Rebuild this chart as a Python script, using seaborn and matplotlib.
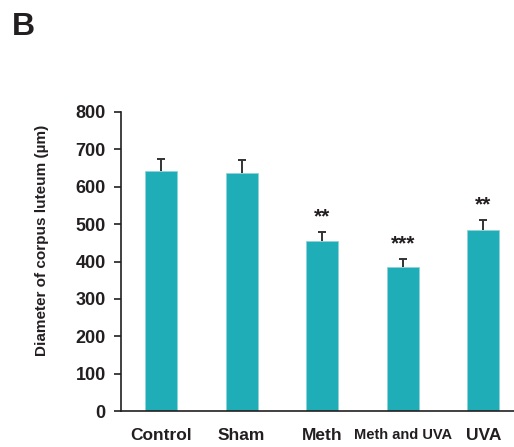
import matplotlib
matplotlib.use("Agg")
import matplotlib.pyplot as plt
import seaborn as sns
import pandas as pd
import numpy as np

# Corpus luteum diameter per treatment group (mean and SD, in µm)
groups = ["Control", "Sham", "Meth", "Meth and UVA", "UVA"]
means = [643, 638, 455, 386, 484]
sds = [32, 33, 25, 22, 28]
stars = ["", "", "**", "***", "**"]
yticks = [0, 100, 200, 300, 400, 500, 600, 700, 800]

sns.set_theme(style="white")
plt.rcParams["font.family"] = ["Liberation Sans", "DejaVu Sans"]
plt.rcParams["font.weight"] = "bold"

ink = "#231F20"
bar_color = "#1FADB7"

df = pd.DataFrame({"group": groups, "mean": means})

fig = plt.figure(figsize=(5.14, 4.47), dpi=100)
W, H = 514, 447
ax = fig.add_axes([121 / W, 36 / H, 402.5 / W, 299 / H])

sns.barplot(data=df, x="group", y="mean", color=bar_color, saturation=1,
            width=0.4, errorbar=None, ax=ax, edgecolor="#8fd3d8", linewidth=0.6)

# upper-only SD whiskers
x = np.arange(len(groups))
_, caps, _ = ax.errorbar(x, means, yerr=[np.zeros(len(sds)), sds], fmt="none",
                         ecolor="#333333", elinewidth=1.4, capsize=3, capthick=1.4)
caps[0].set_visible(False)

for xi, m, s, st in zip(x, means, sds, stars):
    if st:
        ax.text(xi, m + s + 40, st, ha="center", va="center",
                fontsize=15, fontweight="bold", color=ink)

ax.set_xlim(-0.5, 4.5)
ax.set_ylim(0, 800)
ax.set_yticks(yticks)
ax.set_yticklabels([str(v) for v in yticks], fontsize=13, fontweight="bold", color=ink)

ax.set_xticks(x)
ax.set_xticklabels(groups, color=ink, fontweight="bold")
for lbl, g in zip(ax.get_xticklabels(), groups):
    lbl.set_fontsize(10.5 if g == "Meth and UVA" else 12.5)
ax.set_xticks(np.arange(-0.5, 4.0, 1.0), minor=True)
ax.tick_params(axis="x", which="major", length=0, pad=12)
ax.tick_params(axis="x", which="minor", length=9, width=1.2, color=ink, direction="out")
ax.tick_params(axis="y", which="major", length=5, width=1.2, color=ink,
               direction="out", left=True, pad=6)

ax.set_xlabel("")
ax.set_ylabel("Diameter of corpus luteum (µm)", fontsize=11, fontweight="bold", color=ink)
ax.yaxis.set_label_coords(-0.178, 0.572)

for side in ["top", "right"]:
    ax.spines[side].set_visible(False)
for side in ["left", "bottom"]:
    ax.spines[side].set_color(ink)
    ax.spines[side].set_linewidth(1.2)

fig.text(12 / W, 1 - 35 / H, "B", fontsize=23, fontweight="bold", color=ink,
         ha="left", va="baseline")

fig.savefig("out.png", dpi=100, facecolor="white")
